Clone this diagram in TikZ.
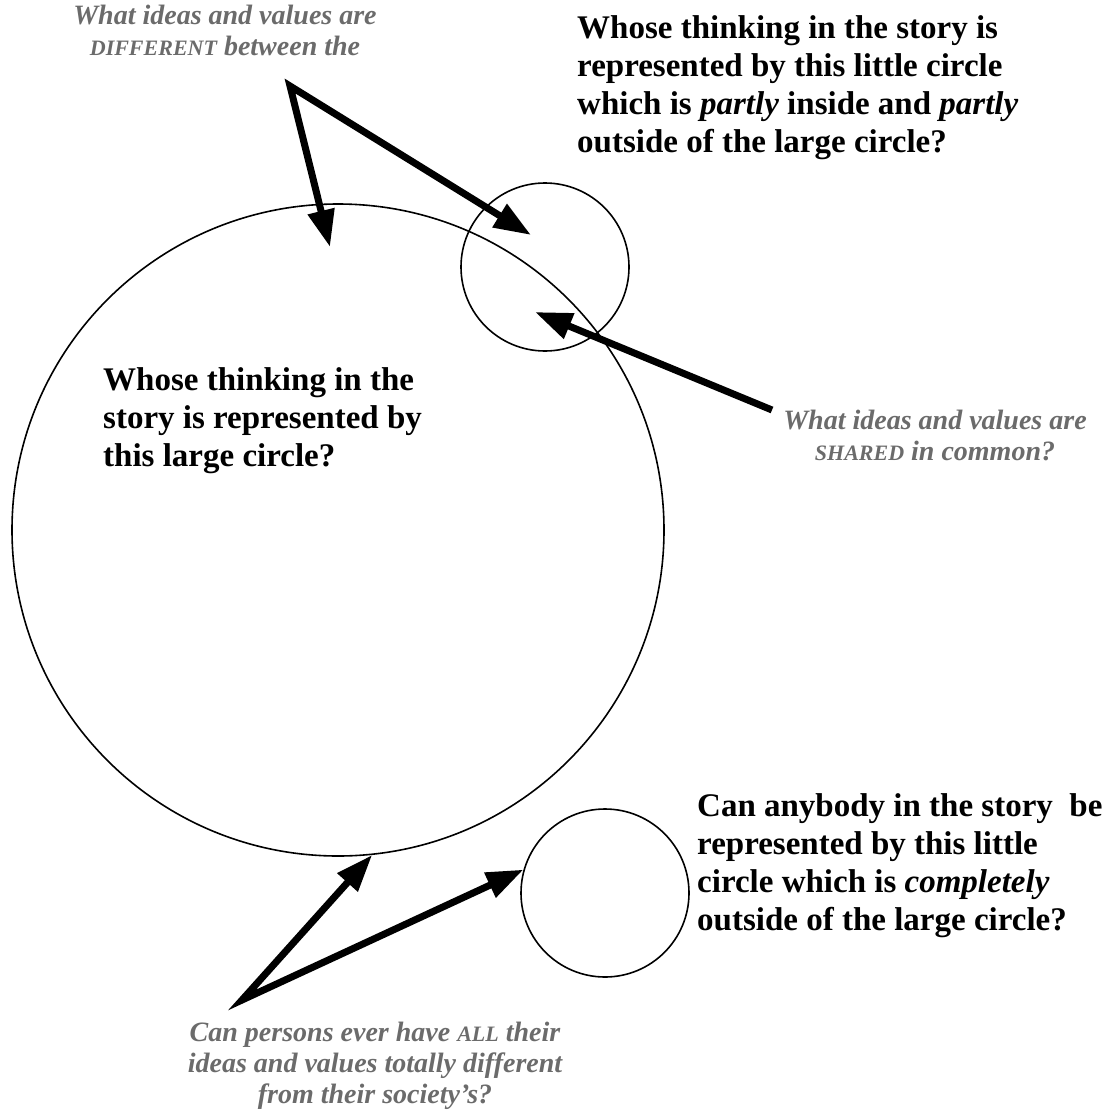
\documentclass[tikz,border=0pt]{standalone}
\usepackage{fontspec}
\usepackage{xcolor}
\setmainfont{Liberation Serif}
\usetikzlibrary{arrows.meta}
\definecolor{Note}{HTML}{6B6B6B}
\newcommand{\shrinkcaps}[1]{{\fontsize{22}{31}\selectfont #1}}

\begin{document}
\begin{tikzpicture}[
    x=1pt, y=-1pt,
    ring/.style={
        circle,
        draw,
        line width=1.6pt,
        inner sep=0pt
    },
    question/.style={
        font=\fontsize{33}{38}\selectfont\bfseries,
        align=left,
        anchor=west,
        inner sep=0pt
    },
    prompt/.style={
        font=\fontsize{28}{31}\selectfont\bfseries\itshape,
        text=Note,
        align=center,
        inner sep=0pt
    },
    pointer/.style={
        line width=7pt,
        line join=miter,
        -{Triangle[length=37pt,width=26pt]}
    },
    twin/.style={
        pointer,
        {Triangle[length=37pt,width=26pt]}-{Triangle[length=37pt,width=26pt]}
    }
]

% Frame
\useasboundingbox (0,0) rectangle (1104,1114);

% Circles
\node[ring, minimum size=652pt] (society) at (338,530) {};
\node[ring, minimum size=168pt] (partly) at (545,267) {};
\node[ring, minimum size=168pt] (apart) at (605,893) {};

% Questions
\node[question] (qpartly) at (577,88)
{Whose thinking in the story is\\
represented by this little circle\\
which is \textit{partly} inside and \textit{partly}\\
outside of the large circle?};

\node[question] (qsociety) at (103,421)
{Whose thinking in the\\
story is represented by\\
this large circle?};

\node[question] (qapart) at (697,866)
{Can anybody in the story\ \ be\\
represented by this little\\
circle which is \textit{completely}\\
outside of the large circle?};

% Prompts
\node[prompt] (pdiff) at (225,30)
{What ideas and values are\\
\shrinkcaps{DIFFERENT} between the};

\node[prompt] (pshared) at (935,435)
{What ideas and values are\\
\shrinkcaps{SHARED} in common?};

\node[prompt] (palone) at (375,1066)
{Can persons ever have \shrinkcaps{ALL} their\\
ideas and values totally different\\
from their society’s?};

% Arrow ends
\coordinate (peak) at (290,86);
\coordinate (difftip) at (330,247);
\coordinate (sharetip) at (531,235);
\coordinate (sharetail) at (772,410);
\coordinate (commontip) at (535,312);
\coordinate (vertex) at (242,1000);

% Pointers
\draw[twin] (difftip) -- (peak) -- (sharetip);
\draw[pointer] (sharetail) -- (commontip);
\draw[twin] (society.-84) -- (vertex) -- (apart.164);

\end{tikzpicture}
\end{document}
